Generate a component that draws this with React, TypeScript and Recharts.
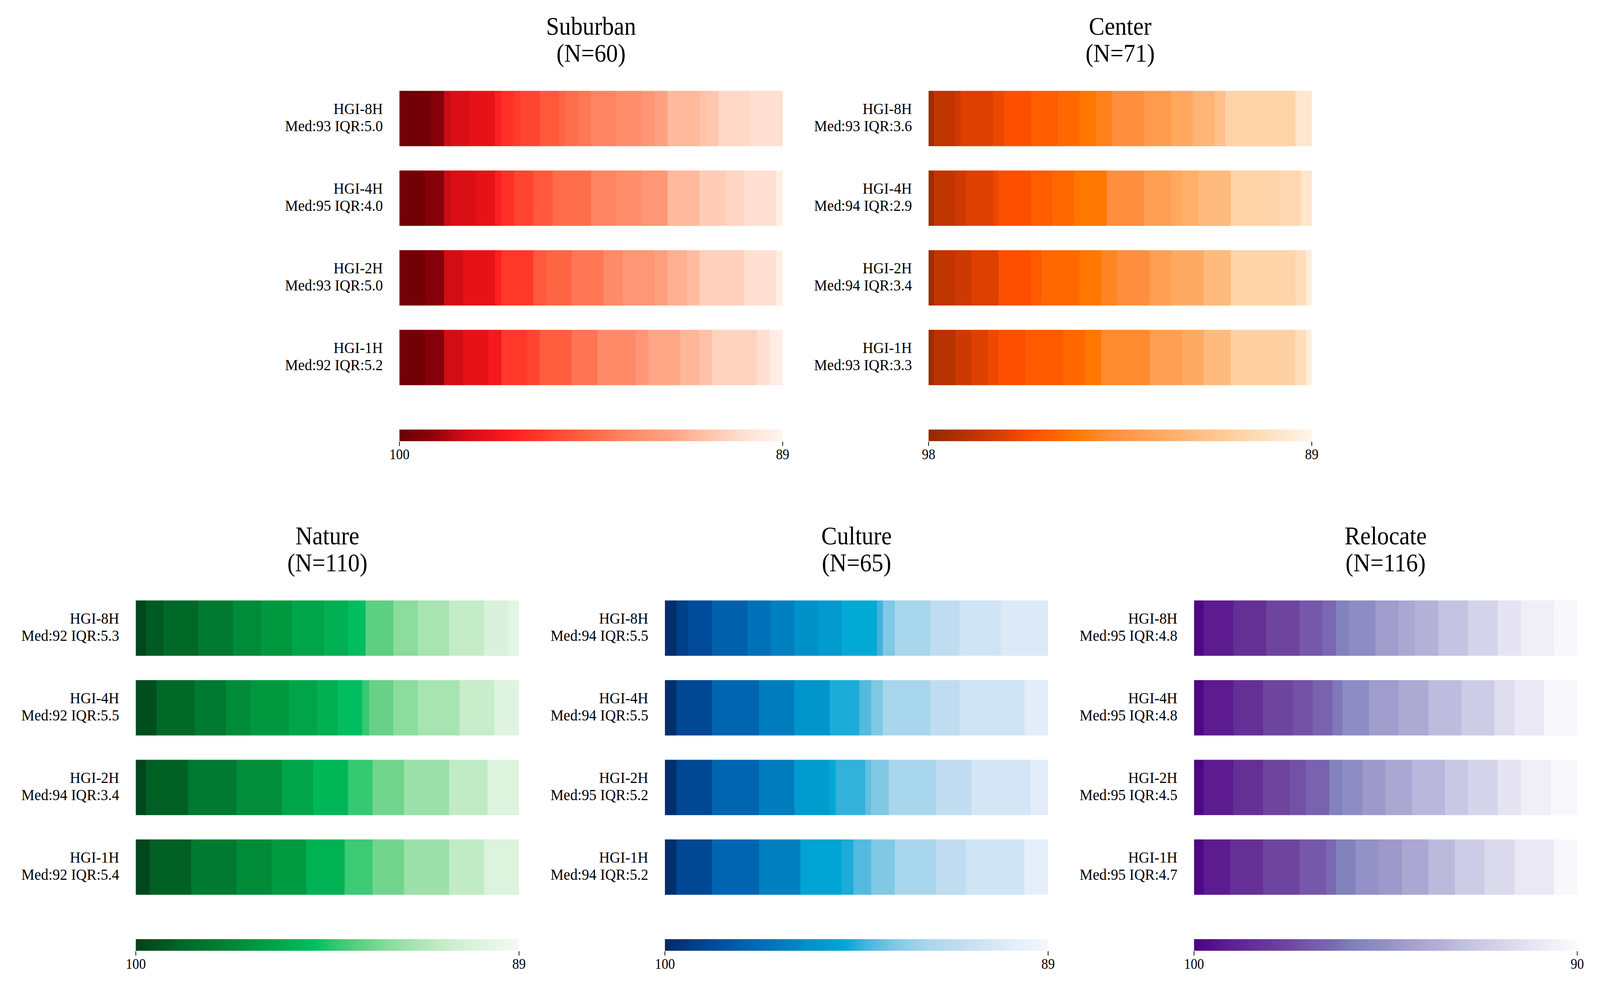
import React from 'react'
import { BarChart, Bar, XAxis, YAxis, Cell } from 'recharts'

// Heat-strip chart: each HGI row is the sorted spread of scores, coloured by value.
// Segments are [score, number of respondents], left (high) to right (low).

const FONT = '"Liberation Serif", "Times New Roman", Times, serif'

const HGI_ROWS = ['HGI-8H', 'HGI-4H', 'HGI-2H', 'HGI-1H']

// ─── colour maps (t = 0 at colourbar left, 1 at right) ───────────────────

const REDS: [number, string][] = [
  [0, '#6a0006'], [0.08, '#8c0008'], [0.16, '#c80c14'], [0.23, '#e81218'],
  [0.3, '#ff2020'], [0.4, '#ff4530'], [0.5, '#ff6845'], [0.6, '#ff8a68'],
  [0.7, '#ffa080'], [0.8, '#ffc2a8'], [0.9, '#ffe0d2'], [1, '#fff5f0'],
]
const ORANGES: [number, string][] = [
  [0, '#8f2a00'], [0.12, '#c03500'], [0.2, '#dd4000'], [0.27, '#ff5000'],
  [0.35, '#ff6a00'], [0.38, '#ff7800'], [0.48, '#ff9040'], [0.6, '#ffa85e'],
  [0.72, '#ffc088'], [0.82, '#ffd4a8'], [0.92, '#ffe6cc'], [1, '#fff5eb'],
]
const GREENS: [number, string][] = [
  [0, '#00421a'], [0.08, '#005a22'], [0.13, '#006a28'], [0.2, '#007a30'],
  [0.26, '#008a38'], [0.31, '#00983f'], [0.36, '#00a448'], [0.41, '#00b052'],
  [0.47, '#00c060'], [0.52, '#30c870'], [0.58, '#5ccf80'], [0.66, '#8adc9c'],
  [0.73, '#a8e4b2'], [0.8, '#c4ecc8'], [0.87, '#d8f2da'], [1, '#f2fbf2'],
]
const BLUES: [number, string][] = [
  [0, '#002a66'], [0.08, '#003f88'], [0.13, '#004c9c'], [0.2, '#0060ac'],
  [0.26, '#0070b8'], [0.32, '#0080c0'], [0.37, '#0090c8'], [0.42, '#009ace'],
  [0.47, '#00a8d5'], [0.52, '#40b4dc'], [0.6, '#80c8e4'], [0.68, '#a8d6ec'],
  [0.76, '#bedcf0'], [0.83, '#d0e4f4'], [0.9, '#e0ecf8'], [1, '#f2f8ff'],
]
const PURPLES: [number, string][] = [
  [0, '#4b0082'], [0.08, '#5c1c90'], [0.16, '#653096'], [0.24, '#6e459e'],
  [0.3, '#7658aa'], [0.36, '#7a68b2'], [0.42, '#8282bc'], [0.48, '#8e8cc4'],
  [0.55, '#a09ccc'], [0.65, '#b4b2d8'], [0.72, '#c4c4e2'], [0.8, '#d4d4ea'],
  [0.88, '#e6e4f2'], [0.93, '#f0eef6'], [1, '#fbfafd'],
]

// ─── Suburban ────────────────────────────────────────────────────────────
const SUBURBAN_N = 60
const SUBURBAN_RANGE: [number, number] = [89, 100]
const SUBURBAN_MED = [93, 95, 93, 92]
const SUBURBAN_IQR = [5.0, 4.0, 5.0, 5.2]
const SUBURBAN_SEGS: [number, number][][] = [
  [[99.8, 5], [99.3, 2], [98.2, 1], [97.8, 3], [97.5, 4], [96.7, 1], [96.2, 2], [95.9, 1], [95.6, 3], [95, 3], [94.6, 1], [94.3, 2], [94, 2], [93.6, 4], [93.2, 4], [92.8, 2], [92.3, 2], [91.5, 5], [91.2, 1], [91, 2], [90.4, 5], [90.1, 5]],
  [[99.8, 4], [99.3, 3], [98.2, 1], [97.8, 4], [97.5, 3], [96.7, 1], [96.2, 2], [95.6, 3], [95, 3], [94.3, 6], [93.6, 4], [93.2, 4], [92.8, 4], [91.5, 5], [90.8, 4], [90.5, 3], [90.1, 5], [89.4, 1]],
  [[99.8, 4], [99.3, 3], [98, 3], [97.5, 5], [96.7, 1], [96, 5], [95, 2], [94.6, 4], [94, 5], [93.4, 3], [92.8, 5], [92.3, 2], [91.8, 3], [91.4, 2], [90.7, 7], [90.1, 5], [89.4, 1]],
  [[99.8, 4], [99.3, 3], [98, 3], [97.5, 4], [97.1, 2], [96, 4], [95.6, 2], [94.8, 5], [94.1, 4], [93.4, 6], [92.8, 2], [92.1, 5], [91.6, 3], [91.2, 2], [90.6, 7], [90.1, 2], [89.4, 2]],
]

// ─── Center ──────────────────────────────────────────────────────────────
const CENTER_N = 71
const CENTER_RANGE: [number, number] = [89, 98]
const CENTER_MED = [93, 94, 94, 93]
const CENTER_IQR = [3.6, 2.9, 3.4, 3.3]
const CENTER_SEGS: [number, number][][] = [
  [[97.7, 1], [96.9, 4], [96.6, 1], [96.2, 6], [95.9, 2], [95.6, 5], [95.2, 5], [94.9, 4], [94.6, 3], [94.2, 3], [93.7, 6], [93.2, 5], [92.6, 4], [92, 4], [91.5, 2], [90.6, 13], [89.7, 3]],
  [[97.7, 1], [96.9, 4], [96.6, 2], [96.2, 5], [95.9, 1], [95.6, 6], [95.2, 4], [94.9, 4], [94.6, 6], [93.7, 7], [93, 5], [92.6, 2], [92.3, 3], [91.8, 6], [90.6, 9], [90.4, 4], [89.7, 2]],
  [[97.7, 1], [96.9, 4], [96.6, 3], [96.2, 5], [95.6, 6], [95.3, 2], [94.9, 7], [94.6, 4], [94.1, 3], [93.7, 6], [93, 4], [92.5, 6], [91.8, 5], [90.6, 12], [90.1, 2], [89.4, 1]],
  [[97.7, 1], [97.1, 4], [96.6, 3], [96.2, 3], [95.9, 2], [95.6, 5], [95.3, 7], [94.9, 4], [94.6, 3], [93.9, 9], [93, 6], [92.5, 4], [91.8, 5], [90.8, 12], [90.1, 2], [89.4, 1]],
]

// ─── Nature ──────────────────────────────────────────────────────────────
const NATURE_N = 110
const NATURE_RANGE: [number, number] = [89, 100]
const NATURE_MED = [92, 92, 94, 92]
const NATURE_IQR = [5.3, 5.5, 3.4, 5.4]
const NATURE_SEGS: [number, number][][] = [
  [[99.8, 3], [99.1, 5], [98.6, 10], [97.8, 10], [97.1, 8], [96.6, 9], [96, 9], [95.5, 7], [94.9, 5], [93.6, 8], [92.7, 7], [92, 9], [91.2, 10], [90.4, 7], [89.8, 3]],
  [[99.6, 6], [98.6, 11], [97.8, 9], [97.1, 7], [96.6, 11], [96, 8], [95.5, 6], [94.9, 7], [94.2, 2], [93.4, 7], [92.7, 7], [92, 12], [91.1, 10], [90.1, 7]],
  [[99.8, 3], [98.9, 12], [97.8, 14], [97, 13], [96, 9], [95.2, 10], [94.2, 7], [93.2, 9], [92.3, 13], [91.3, 11], [90.2, 9]],
  [[99.8, 4], [98.9, 12], [97.8, 13], [97.1, 10], [96.5, 10], [95.4, 11], [94.1, 8], [93.2, 9], [92.3, 13], [91.3, 10], [90.2, 10]],
]

// ─── Culture ─────────────────────────────────────────────────────────────
const CULTURE_N = 65
const CULTURE_RANGE: [number, number] = [89, 100]
const CULTURE_MED = [94, 94, 95, 94]
const CULTURE_IQR = [5.5, 5.5, 5.2, 5.2]
const CULTURE_SEGS: [number, number][][] = [
  [[99.8, 2], [99.1, 2], [98.6, 4], [97.8, 6], [97.1, 4], [96.5, 4], [95.9, 4], [95.4, 4], [94.8, 6], [94.3, 1], [93.4, 2], [92.5, 6], [91.6, 5], [90.9, 7], [90.3, 8]],
  [[99.8, 2], [98.8, 6], [97.6, 8], [96.6, 6], [95.6, 6], [94.6, 5], [94, 2], [93.4, 2], [92.5, 8], [91.6, 5], [90.9, 11], [90, 4]],
  [[99.8, 2], [98.8, 6], [97.6, 8], [96.6, 6], [95.3, 6], [94.8, 1], [94.4, 5], [93.8, 1], [93.4, 3], [92.5, 8], [91.5, 6], [90.7, 10], [90, 3]],
  [[99.8, 2], [98.8, 6], [97.6, 8], [96.5, 7], [95, 7], [94.6, 2], [94, 3], [93.4, 4], [92.5, 7], [91.6, 5], [90.9, 10], [89.8, 4]],
]

// ─── Relocate ────────────────────────────────────────────────────────────
const RELOCATE_N = 116
const RELOCATE_RANGE: [number, number] = [90, 100]
const RELOCATE_MED = [95, 95, 95, 95]
const RELOCATE_IQR = [4.8, 4.8, 4.5, 4.7]
const RELOCATE_SEGS: [number, number][][] = [
  [[99.8, 3], [99.2, 9], [98.4, 10], [97.6, 10], [97, 7], [96.4, 4], [95.8, 4], [95.2, 8], [94.5, 7], [94, 5], [93.5, 7], [92.8, 9], [92, 9], [91.2, 7], [90.7, 10], [90.2, 7]],
  [[99.8, 3], [99.2, 9], [98.4, 9], [97.6, 9], [97.2, 6], [96.6, 6], [96, 3], [95.2, 8], [94.5, 9], [93.9, 9], [93.1, 10], [92.4, 10], [91.5, 6], [91, 9], [90.2, 10]],
  [[99.8, 3], [99.2, 9], [98.4, 9], [97.6, 8], [97.2, 5], [96.6, 7], [95.8, 4], [95.2, 6], [94.6, 7], [94, 8], [93.3, 10], [92.6, 7], [92, 9], [91.2, 7], [90.7, 9], [90.2, 8]],
  [[99.8, 3], [99.2, 8], [98.4, 10], [97.6, 11], [97, 8], [96.4, 3], [95.8, 6], [95, 7], [94.6, 7], [94, 8], [93.2, 8], [92.4, 9], [91.7, 9], [91, 12], [90.2, 7]],
]

// ─── layout (px in the 4430 x 2548 figure) ───────────────────────────────
const FIG_W = 4430
const FIG_H = 2548
const BAR_W = 1061
const Y_AXIS_W = 420
const BAND = 204
const BAR_H = 141
const ROW_TOPS = [232, 1537]

type Panel = {
  title: string
  n: number
  range: [number, number]
  stops: [number, string][]
  med: number[]
  iqr: number[]
  segs: [number, number][][]
  left: number
  top: number
}

const PANELS: Panel[] = [
  { title: 'Suburban', n: SUBURBAN_N, range: SUBURBAN_RANGE, stops: REDS, med: SUBURBAN_MED, iqr: SUBURBAN_IQR, segs: SUBURBAN_SEGS, left: 1106, top: ROW_TOPS[0] },
  { title: 'Center', n: CENTER_N, range: CENTER_RANGE, stops: ORANGES, med: CENTER_MED, iqr: CENTER_IQR, segs: CENTER_SEGS, left: 2571, top: ROW_TOPS[0] },
  { title: 'Nature', n: NATURE_N, range: NATURE_RANGE, stops: GREENS, med: NATURE_MED, iqr: NATURE_IQR, segs: NATURE_SEGS, left: 376, top: ROW_TOPS[1] },
  { title: 'Culture', n: CULTURE_N, range: CULTURE_RANGE, stops: BLUES, med: CULTURE_MED, iqr: CULTURE_IQR, segs: CULTURE_SEGS, left: 1841, top: ROW_TOPS[1] },
  { title: 'Relocate', n: RELOCATE_N, range: RELOCATE_RANGE, stops: PURPLES, med: RELOCATE_MED, iqr: RELOCATE_IQR, segs: RELOCATE_SEGS, left: 3306, top: ROW_TOPS[1] },
]

// ─── colour helpers ──────────────────────────────────────────────────────

function hexToRgb(h: string): number[] {
  const n = parseInt(h.slice(1), 16)
  return [(n >> 16) & 255, (n >> 8) & 255, n & 255]
}

function colorAt(stops: [number, string][], t: number): string {
  const tt = Math.max(0, Math.min(1, t))
  for (let i = 0; i < stops.length - 1; i++) {
    const [t0, c0] = stops[i]
    const [t1, c1] = stops[i + 1]
    if (tt >= t0 && tt <= t1) {
      const f = t1 === t0 ? 0 : (tt - t0) / (t1 - t0)
      const a = hexToRgb(c0)
      const b = hexToRgb(c1)
      const m = a.map((v, k) => Math.round(v + (b[k] - v) * f))
      return `rgb(${m[0]},${m[1]},${m[2]})`
    }
  }
  return stops[stops.length - 1][1]
}

// ─── one panel: title, strips, colourbar ─────────────────────────────────

function StripPanel({ p, idx }: { p: Panel; idx: number }) {
  const [lo, hi] = p.range
  const K = Math.max(...p.segs.map((s) => s.length))
  const data = HGI_ROWS.map((row, i) => {
    const d: Record<string, string | number> = { row }
    for (let k = 0; k < K; k++) d[`s${k}`] = p.segs[i][k] ? p.segs[i][k][1] : 0
    return d
  })
  const fillFor = (i: number, k: number) => {
    const seg = p.segs[i][k]
    if (!seg) return 'none'
    return colorAt(p.stops, (hi - seg[0]) / (hi - lo))
  }

  const renderTick = (props: any) => {
    const { x, y, payload } = props
    const i = HGI_ROWS.indexOf(payload.value)
    return (
      <text x={x} y={y} textAnchor="end" fontSize={41} fontFamily={FONT} fill="#000">
        <tspan x={x} dy={-11}>{payload.value}</tspan>
        <tspan x={x} dy={44}>{`Med:${p.med[i]} IQR:${p.iqr[i].toFixed(1)}`}</tspan>
      </text>
    )
  }

  const gradId = `cbar-${idx}`
  const plotTop = p.top - (BAND - BAR_H) / 2
  const cbTop = p.top + 866

  return (
    <>
      <div
        style={{
          position: 'absolute',
          left: p.left,
          top: p.top - 199.4,
          width: BAR_W,
          textAlign: 'center',
          fontFamily: FONT,
          fontSize: 65,
          lineHeight: '69px',
          color: '#000',
        }}
      >
        <div>{p.title}</div>
        <div>{`(N=${p.n})`}</div>
      </div>

      <div style={{ position: 'absolute', left: p.left - Y_AXIS_W, top: plotTop }}>
        <BarChart
          width={Y_AXIS_W + BAR_W + 10}
          height={BAND * HGI_ROWS.length}
          data={data}
          layout="vertical"
          margin={{ top: 0, right: 10, bottom: 0, left: 0 }}
          barCategoryGap={0}
          barSize={BAR_H}
        >
          <XAxis type="number" domain={[0, p.n]} hide allowDataOverflow />
          <YAxis
            type="category"
            dataKey="row"
            width={Y_AXIS_W}
            axisLine={false}
            tickLine={false}
            tickSize={0}
            tickMargin={46}
            interval={0}
            tick={renderTick}
          />
          {Array.from({ length: K }, (_, k) => (
            <Bar key={k} dataKey={`s${k}`} stackId="a" isAnimationActive={false}>
              {data.map((_, i) => (
                <Cell key={i} fill={fillFor(i, k)} stroke={fillFor(i, k)} strokeWidth={0.8} />
              ))}
            </Bar>
          ))}
        </BarChart>
      </div>

      <div style={{ position: 'absolute', left: p.left - 40, top: cbTop }}>
        <BarChart
          width={BAR_W + 80}
          height={33 + 70}
          data={[{ name: 'cbar', span: [lo, hi] }]}
          layout="vertical"
          margin={{ top: 0, right: 40, bottom: 0, left: 40 }}
          barCategoryGap={0}
          barSize={33}
        >
          <defs>
            <linearGradient id={gradId} x1="0" y1="0" x2="1" y2="0">
              {p.stops.map(([t, c]) => (
                <stop key={t} offset={`${t * 100}%`} stopColor={c} />
              ))}
            </linearGradient>
          </defs>
          <XAxis
            type="number"
            domain={[lo, hi]}
            reversed
            ticks={[hi, lo]}
            interval={0}
            axisLine={false}
            tickSize={11}
            tickMargin={8}
            height={70}
            tickLine={{ stroke: '#000', strokeWidth: 2 }}
            tick={{ fontSize: 37, fill: '#000', fontFamily: FONT }}
          />
          <YAxis type="category" dataKey="name" hide />
          <Bar dataKey="span" fill={`url(#${gradId})`} isAnimationActive={false} />
        </BarChart>
      </div>
    </>
  )
}

export default function App() {
  // the browser caps the viewport width, so squeeze the figure horizontally to fit
  const vw = typeof window !== 'undefined' ? window.innerWidth : FIG_W
  const sx = Math.min(1, vw / FIG_W)
  return (
    <div
      style={{
        position: 'absolute',
        left: 0,
        top: 0,
        width: FIG_W,
        height: FIG_H,
        background: '#fff',
        overflow: 'hidden',
        transform: `scale(${sx}, 1)`,
        transformOrigin: '0 0',
      }}
    >
      {PANELS.map((p, i) => (
        <StripPanel key={p.title} p={p} idx={i} />
      ))}
    </div>
  )
}
